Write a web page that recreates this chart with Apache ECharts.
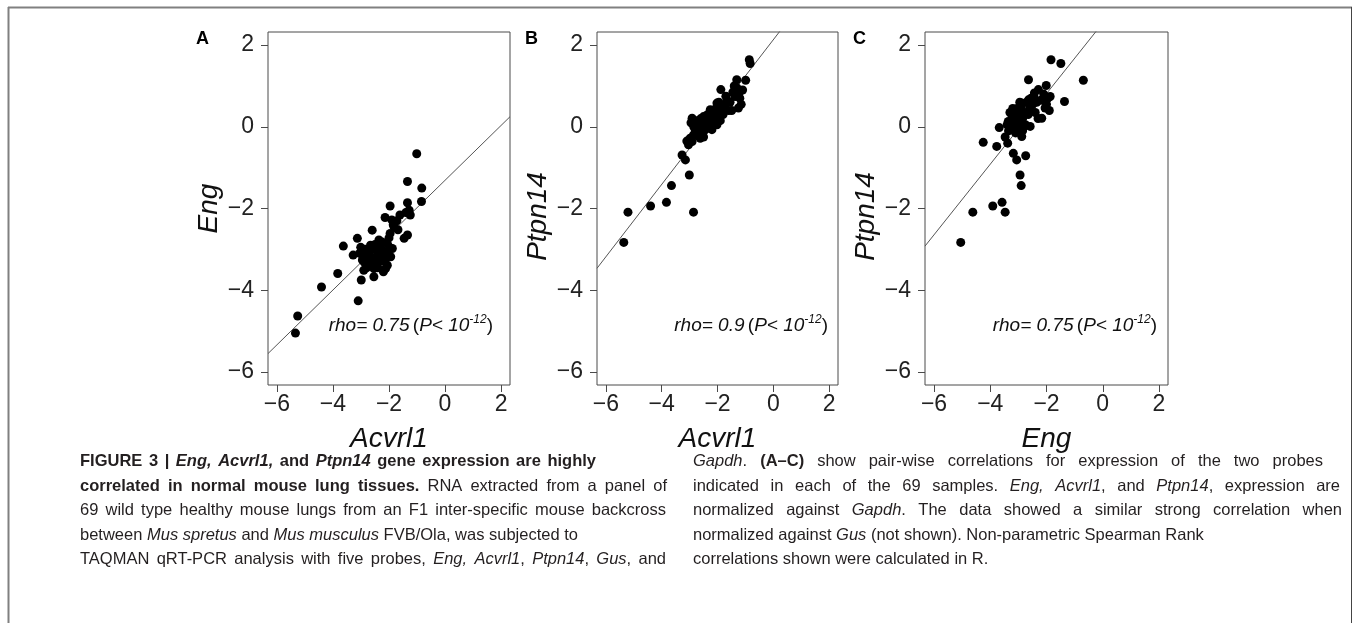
<!DOCTYPE html>
<html>
<head>
<meta charset="utf-8">
<script src="https://cdn.jsdelivr.net/npm/echarts@6.0.0/dist/echarts.min.js"></script>
<style>
  html, body { margin: 0; padding: 0; background: #fff; }
  #main { width: 1355px; height: 623px; }
</style>
</head>
<body>
<div id="main"></div>
<script>
// ---------------- data ----------------
const tickValues = [-6, -4, -2, 0, 2];
const axisRange = [-6.32, 2.32];
const panelLetters = ['A', 'B', 'C'];
const xTitles = ['Acvrl1', 'Acvrl1', 'Eng'];
const yTitles = ['Eng', 'Ptpn14', 'Ptpn14'];
const rhoValues = ['0.75', '0.9', '0.75'];
// regression lines: [intercept, slope]
const fitA = [-1.31, 0.671];
const fitB = [2.13, 0.885];
const fitC = [2.54, 0.864];

// Panel A: x = Acvrl1, y = Eng
const pointsA = [
  [-1.01,-0.66],[-1.34,-1.34],[-0.83,-1.50],[-0.84,-1.83],[-1.34,-1.86],[-1.96,-1.94],[-1.28,-2.04],
  [-1.61,-2.16],[-2.14,-2.22],[-1.90,-2.28],[-1.82,-2.45],[-2.60,-2.53],[-1.96,-2.61],[-1.34,-2.65],
  [-3.13,-2.73],[-1.46,-2.73],[-3.63,-2.92],[-2.36,-2.77],[-2.06,-2.86],[-3.01,-2.95],[-2.66,-2.90],
  [-1.88,-2.98],[-3.28,-3.14],[-2.83,-3.10],[-2.42,-3.06],[-2.12,-3.14],[-2.95,-3.26],[-2.60,-3.22],
  [-2.24,-3.26],[-1.94,-3.18],[-2.77,-3.39],[-2.42,-3.35],[-2.06,-3.39],[-2.90,-3.51],[-2.54,-3.47],
  [-2.12,-3.47],[-3.83,-3.59],[-2.99,-3.75],[-2.54,-3.67],[-4.41,-3.92],[-3.10,-4.26],[-5.26,-4.63],
  [-5.34,-5.05],[-2.85,-3.00],[-2.70,-3.05],[-2.50,-3.00],[-2.30,-2.95],[-2.20,-3.05],[-2.45,-3.20],
  [-2.72,-3.25],[-2.88,-3.32],[-2.35,-3.30],[-2.15,-3.30],[-2.62,-3.35],[-2.80,-3.45],[-2.30,-3.12],
  [-2.05,-3.05],[-1.98,-2.95],[-2.00,-2.72],[-2.25,-2.82],[-2.50,-2.88],[-1.85,-2.40],[-1.72,-2.30],
  [-1.68,-2.52],[-1.40,-2.10],[-1.24,-2.16],[-2.40,-3.45],[-2.20,-3.55],[-3.05,-3.10]
];
// Panel B: x = Acvrl1, y = Ptpn14
const pointsB = [
  [-0.86,1.64],[-0.83,1.55],[-1.31,1.15],[-0.99,1.14],[-1.88,0.91],[-1.19,0.87],[-1.37,0.74],
  [-1.66,0.66],[-2.02,0.58],[-1.25,0.46],[-1.49,0.40],[-2.26,0.42],[-1.90,0.34],[-2.91,0.21],
  [-2.50,0.25],[-2.14,0.17],[-2.68,0.09],[-2.38,0.05],[-2.02,0.05],[-2.80,-0.07],[-2.50,-0.12],
  [-2.20,-0.07],[-2.86,-0.20],[-2.62,-0.28],[-2.98,-0.28],[-3.04,-0.44],[-2.91,-0.36],[-3.27,-0.69],
  [-3.15,-0.81],[-3.01,-1.18],[-3.65,-1.44],[-4.40,-1.94],[-3.83,-1.85],[-5.21,-2.09],[-2.86,-2.09],
  [-5.36,-2.83],[-2.95,0.10],[-2.85,0.00],[-2.75,0.15],[-2.65,-0.05],[-2.55,0.05],[-2.45,0.20],
  [-2.40,-0.05],[-2.35,0.30],[-2.30,0.10],[-2.25,0.25],[-2.20,0.40],[-2.15,0.05],[-2.10,0.30],
  [-2.05,0.45],[-2.00,0.20],[-1.95,0.60],[-1.90,0.15],[-1.85,0.45],[-1.80,0.30],[-1.75,0.50],
  [-1.70,0.75],[-1.60,0.40],[-1.55,0.60],[-1.45,0.85],[-1.40,1.00],[-1.20,0.70],[-1.15,0.55],
  [-1.10,0.90],[-2.60,0.20],[-2.70,-0.20],[-2.50,-0.25],[-3.10,-0.35],[-1.30,0.95]
];
// Panel C: x = Eng, y = Ptpn14
const pointsC = [
  [-1.84,1.64],[-1.49,1.55],[-0.69,1.14],[-2.64,1.15],[-2.01,1.01],[-2.29,0.91],[-1.87,0.74],
  [-2.43,0.83],[-1.36,0.62],[-2.64,0.66],[-2.05,0.46],[-2.88,0.58],[-3.12,0.42],[-2.17,0.21],
  [-2.58,0.01],[-3.23,0.29],[-3.36,0.13],[-2.94,0.17],[-3.68,-0.02],[-3.18,-0.03],[-2.88,-0.24],
  [-3.47,-0.25],[-3.38,-0.40],[-4.25,-0.38],[-3.77,-0.48],[-3.18,-0.65],[-3.06,-0.81],[-2.74,-0.71],
  [-2.94,-1.18],[-2.90,-1.44],[-3.91,-1.94],[-3.58,-1.85],[-3.47,-2.09],[-4.62,-2.09],[-5.05,-2.83],
  [-3.30,0.35],[-3.25,0.15],[-3.20,0.05],[-3.15,0.30],[-3.10,0.20],[-3.05,0.45],[-3.00,0.10],
  [-3.00,0.30],[-2.95,0.00],[-2.90,0.50],[-2.85,0.20],[-2.80,0.35],[-2.75,0.05],[-2.70,0.60],
  [-2.65,0.30],[-2.60,0.45],[-2.55,0.70],[-2.50,0.55],[-2.45,0.75],[-2.40,0.35],[-2.35,0.60],
  [-2.20,0.65],[-2.10,0.80],[-2.00,0.55],[-1.90,0.40],[-3.35,-0.10],[-3.10,-0.15],[-2.85,-0.10],
  [-3.40,0.05],[-3.20,0.45],[-2.95,0.60],[-2.80,0.00],[-2.30,0.20],[-1.95,0.70]
];

// caption lines: arrays of [style, text]
const captionLeft = [
  [['b','FIGURE 3 | '],['bi','Eng, Acvrl1,'],['b',' and '],['bi','Ptpn14'],['b',' gene expression are highly']],
  [['b','correlated in normal mouse lung tissues.'],['n',' RNA extracted from a panel of']],
  [['n','69 wild type healthy mouse lungs from an F1 inter-specific mouse backcross']],
  [['n','between '],['i','Mus spretus'],['n',' and '],['i','Mus musculus'],['n',' FVB/Ola, was subjected to']],
  [['n','TAQMAN qRT-PCR analysis with five probes, '],['i','Eng, Acvrl1'],['n',', '],['i','Ptpn14'],['n',', '],['i','Gus'],['n',', and']]
];
const captionRight = [
  [['i','Gapdh'],['n','. '],['b','(A\u2013C)'],['n',' show pair-wise correlations for expression of the two probes']],
  [['n','indicated in each of the 69 samples. '],['i','Eng, Acvrl1'],['n',', and '],['i','Ptpn14'],['n',', expression are']],
  [['n','normalized against '],['i','Gapdh'],['n','. The data showed a similar strong correlation when']],
  [['n','normalized against '],['i','Gus'],['n',' (not shown). Non-parametric Spearman Rank']],
  [['n','correlations shown were calculated in R.']]
];

// ---------------- layout ----------------
const FONT = '"Liberation Sans", Arial, Helvetica, sans-serif';
const boxes = [
  { left: 268, width: 242 },
  { left: 597, width: 241 },
  { left: 925, width: 243 }
];
const gridTop = 32, gridHeight = 353;
const fits = [fitA, fitB, fitC];
const points = [pointsA, pointsB, pointsC];

const fmt = v => (v < 0 ? '\u2212' + Math.abs(v) : String(v));

const grids = [], xAxes = [], yAxes = [], series = [], graphics = [];

boxes.forEach((b, i) => {
  grids.push({
    left: b.left, top: gridTop, width: b.width, height: gridHeight,
    show: true, borderColor: '#4a4a4a', borderWidth: 1, backgroundColor: 'transparent'
  });
  const common = {
    type: 'value', gridIndex: i, min: axisRange[0], max: axisRange[1],
    splitLine: { show: false },
    axisLine: { show: false, onZero: false },
    axisTick: { show: true, length: 7, lineStyle: { color: '#4a4a4a', width: 1 }, customValues: tickValues },
    nameLocation: 'middle',
    nameTextStyle: { fontFamily: FONT, fontStyle: 'italic', fontSize: 28, color: '#111' }
  };
  xAxes.push(Object.assign({}, common, {
    position: 'bottom',
    name: xTitles[i], nameGap: 40,
    axisLabel: { customValues: tickValues, formatter: fmt, margin: 8, fontFamily: FONT, fontSize: 23, color: '#222' }
  }));
  yAxes.push(Object.assign({}, common, {
    position: 'left',
    name: yTitles[i], nameGap: 45, nameRotate: 90,
    nameTextStyle: Object.assign({}, common.nameTextStyle,
      yTitles[i] === 'Ptpn14' ? { padding: [0, 16, 0, 0] } : {}),
    axisLabel: { customValues: tickValues, formatter: fmt, margin: 14, fontFamily: FONT, fontSize: 23, color: '#222' }
  }));
  const f = fits[i];
  series.push({
    type: 'line', xAxisIndex: i, yAxisIndex: i, symbol: 'none', clip: true, silent: true,
    lineStyle: { color: '#555', width: 1 },
    data: axisRange.map(x => [x, f[0] + f[1] * x]),
    z: 1
  });
  series.push({
    type: 'scatter', xAxisIndex: i, yAxisIndex: i, symbol: 'circle', symbolSize: 9,
    itemStyle: { color: '#000', opacity: 1 },
    data: points[i], z: 2
  });

  // panel letter
  graphics.push({
    type: 'text', left: b.left - 72, top: 30,
    style: { text: panelLetters[i], font: 'bold 18px ' + FONT, fill: '#000' }
  });
  // rho annotation
  const rightOffsets = [17, 10, 11];
  graphics.push({
    type: 'text', right: 1355 - (b.left + b.width - rightOffsets[i]), top: 314,
    style: {
      text: '{i|rho= ' + rhoValues[i] + '} {n|(}{i|P< 10}{s|-12}{n|)}',
      rich: {
        i: { fontFamily: FONT, fontStyle: 'italic', fontSize: 19, lineHeight: 24, fill: '#111' },
        n: { fontFamily: FONT, fontSize: 19, lineHeight: 24, fill: '#111' },
        s: { fontFamily: FONT, fontStyle: 'italic', fontSize: 12, lineHeight: 24, verticalAlign: 'top', fill: '#111' }
      }
    }
  });
});

// ---------------- caption (with per-line justification) ----------------
const CAP_SIZE = 16.5;
const CAP_COLOR = '#231f20';
const capFont = {
  n: { style: 'normal', weight: 'normal' },
  i: { style: 'italic', weight: 'normal' },
  b: { style: 'normal', weight: 'bold' },
  bi: { style: 'italic', weight: 'bold' }
};
const richStyles = {};
Object.keys(capFont).forEach(k => {
  richStyles[k] = { fontFamily: FONT, fontSize: CAP_SIZE, fontStyle: capFont[k].style,
                    fontWeight: capFont[k].weight, fill: CAP_COLOR };
});
const mctx = document.createElement('canvas').getContext('2d');
function measure(style, text) {
  const f = capFont[style];
  mctx.font = f.style + ' ' + f.weight + ' ' + CAP_SIZE + 'px ' + FONT;
  return mctx.measureText(text).width;
}
// split a line into words (each word = list of [style, text] pieces)
function toWords(line) {
  const words = [];
  let cur = [];
  const gapStyles = [];
  line.forEach(([s, t]) => {
    const parts = t.split(' ');
    parts.forEach((p, idx) => {
      if (idx > 0) {
        if (cur.length) { words.push(cur); gapStyles.push(s); }
        cur = [];
      }
      if (p.length) cur.push([s, p]);
    });
  });
  if (cur.length) words.push(cur);
  return { words, gapStyles };
}
function layoutLine(line, x0, top, targetRight) {
  const { words, gapStyles } = toWords(line);
  const widths = words.map(w => w.reduce((a, [s, t]) => a + measure(s, t), 0));
  const spaceW = gapStyles.map(s => measure(s, ' '));
  const nGaps = words.length - 1;
  const natural = widths.reduce((a, b) => a + b, 0) + spaceW.slice(0, nGaps).reduce((a, b) => a + b, 0);
  let extra = 0;
  if (targetRight != null && nGaps > 0) extra = (targetRight - x0 - natural) / nGaps;
  let x = x0;
  words.forEach((w, k) => {
    graphics.push({
      type: 'text', left: x, top: top,
      style: { text: w.map(([s, t]) => '{' + s + '|' + t + '}').join(''), rich: richStyles }
    });
    x += widths[k] + (k < nGaps ? spaceW[k] + extra : 0);
  });
}
const lineTops = [453, 477.5, 502, 526.5, 551];
const leftTargets = [596, 667, 666, null, 666];
const rightTargets = [1323, 1340, 1342, null, null];
captionLeft.forEach((line, k) => layoutLine(line, 80, lineTops[k], leftTargets[k]));
captionRight.forEach((line, k) => layoutLine(line, 693, lineTops[k], rightTargets[k]));

// frame
graphics.push({ type: 'line', shape: { x1: 8, y1: 7.5, x2: 1352, y2: 7.5 }, style: { stroke: '#808080', lineWidth: 2 } });
graphics.push({ type: 'line', shape: { x1: 8.5, y1: 7, x2: 8.5, y2: 623 }, style: { stroke: '#808080', lineWidth: 2 } });
graphics.push({ type: 'line', shape: { x1: 1351.5, y1: 7, x2: 1351.5, y2: 623 }, style: { stroke: '#444', lineWidth: 1 } });

const chart = echarts.init(document.getElementById('main'));
chart.setOption({
  animation: false,
  backgroundColor: '#fff',
  grid: grids,
  xAxis: xAxes,
  yAxis: yAxes,
  series: series,
  graphic: graphics
});
</script>
</body>
</html>
